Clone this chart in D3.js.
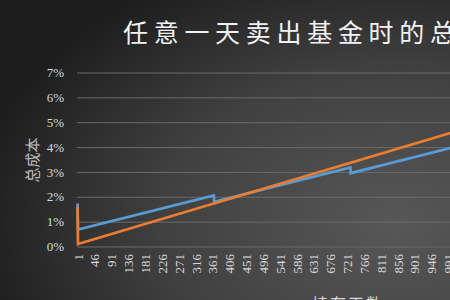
<!DOCTYPE html>
<html>
<head>
<meta charset="utf-8">
<script src="https://cdn.jsdelivr.net/npm/d3@7/dist/d3.min.js"></script>
<style>
  html, body { margin: 0; padding: 0; background: #2a2a2a; overflow: hidden; }
  svg { display: block; }
</style>
</head>
<body>
<svg id="chart" width="450" height="300"></svg>
<script>
// Holding days at which each cost curve changes (breakpoints of the series)
const blueDays   = [1, 2, 365, 366, 730, 731, 1000];
const blueCost   = [0.0173, 0.0068, 0.0205, 0.0180, 0.0318, 0.0295, 0.0397];
const orangeDays = [1, 2, 1000];
const orangeCost = [0.0160, 0.0010, 0.0458];

// Category labels shown along the x axis (every 45th day)
const xTickDays = [1, 46, 91, 136, 181, 226, 271, 316, 361, 406, 451, 496,
                   541, 586, 631, 676, 721, 766, 811, 856, 901, 946, 991];
const yTicks = [0, 0.01, 0.02, 0.03, 0.04, 0.05, 0.06, 0.07];

const titleText = "任意一天卖出基金时的总成本";
const yTitle = "总成本";
const xTitle = "持有天数";

const W = 450, H = 300;
const svg = d3.select("#chart");

// Background: dark radial gradient, lighter towards the lower right
const defs = svg.append("defs");
const grad = defs.append("radialGradient")
  .attr("id", "bg").attr("cx", "88%").attr("cy", "75%").attr("r", "95%");
grad.append("stop").attr("offset", "0%").attr("stop-color", "#575757");
grad.append("stop").attr("offset", "55%").attr("stop-color", "#404040");
grad.append("stop").attr("offset", "100%").attr("stop-color", "#1d1d1d");
svg.append("rect").attr("width", W).attr("height", H).attr("fill", "url(#bg)");

const x = d3.scaleLinear().domain([1, 991]).range([77.6, 448]);
const y = d3.scaleLinear().domain([0, 0.07]).range([246.5, 72.5]);

// Y axis with horizontal gridlines
const yAxis = svg.append("g")
  .attr("transform", "translate(77,0)")
  .call(d3.axisLeft(y).tickValues(yTicks).tickFormat(d3.format(".0%"))
    .tickSize(-(W - 77)).tickPadding(13));
yAxis.select(".domain").remove();
yAxis.selectAll(".tick line")
  .attr("stroke", "#6a6a6a").attr("stroke-width", 1);
yAxis.selectAll(".tick text")
  .attr("fill", "#d9d9d9")
  .style("font-family", "'Liberation Serif', 'DejaVu Serif', serif")
  .style("font-size", "13px");

// X axis: rotated day labels
const xAxis = svg.append("g")
  .attr("transform", `translate(0,${y(0)})`)
  .call(d3.axisBottom(x).tickValues(xTickDays).tickFormat(d3.format("d")).tickSize(0));
xAxis.select(".domain").remove();
xAxis.selectAll(".tick text")
  .attr("transform", "rotate(-90)")
  .attr("text-anchor", "end")
  .attr("x", -7.5).attr("y", 0).attr("dy", "0.35em")
  .attr("fill", "#d9d9d9")
  .style("font-family", "'Liberation Serif', 'DejaVu Serif', serif")
  .style("font-size", "13px");

// Cost curves
const line = d3.line().x(d => x(d[0])).y(d => y(d[1]));
const series = [
  { days: blueDays, cost: blueCost, color: "#5b9bd5" },
  { days: orangeDays, cost: orangeCost, color: "#ed7d31" }
];
series.forEach(s => {
  svg.append("path")
    .datum(s.days.map((d, i) => [d, s.cost[i]]))
    .attr("fill", "none")
    .attr("stroke", s.color)
    .attr("stroke-width", 2.7)
    .attr("stroke-linejoin", "miter")
    .attr("d", line);
});

// Titles
svg.append("text")
  .attr("x", 123).attr("y", 42)
  .attr("fill", "#f2f2f2")
  .style("font-family", "'Noto Sans CJK SC', sans-serif")
  .style("font-size", "25px")
  .style("letter-spacing", "5.7px")
  .text(titleText);

svg.append("text")
  .attr("transform", "translate(38,160) rotate(-90)")
  .attr("text-anchor", "middle")
  .attr("fill", "#bfbfbf")
  .style("font-family", "'Noto Sans CJK SC', sans-serif")
  .style("font-size", "15px")
  .text(yTitle);

svg.append("text")
  .attr("x", 348).attr("y", 310)
  .attr("text-anchor", "middle")
  .attr("fill", "#d9d9d9")
  .style("font-family", "'Noto Sans CJK SC', sans-serif")
  .style("font-size", "16px")
  .style("letter-spacing", "2px")
  .text(xTitle);
</script>
</body>
</html>
